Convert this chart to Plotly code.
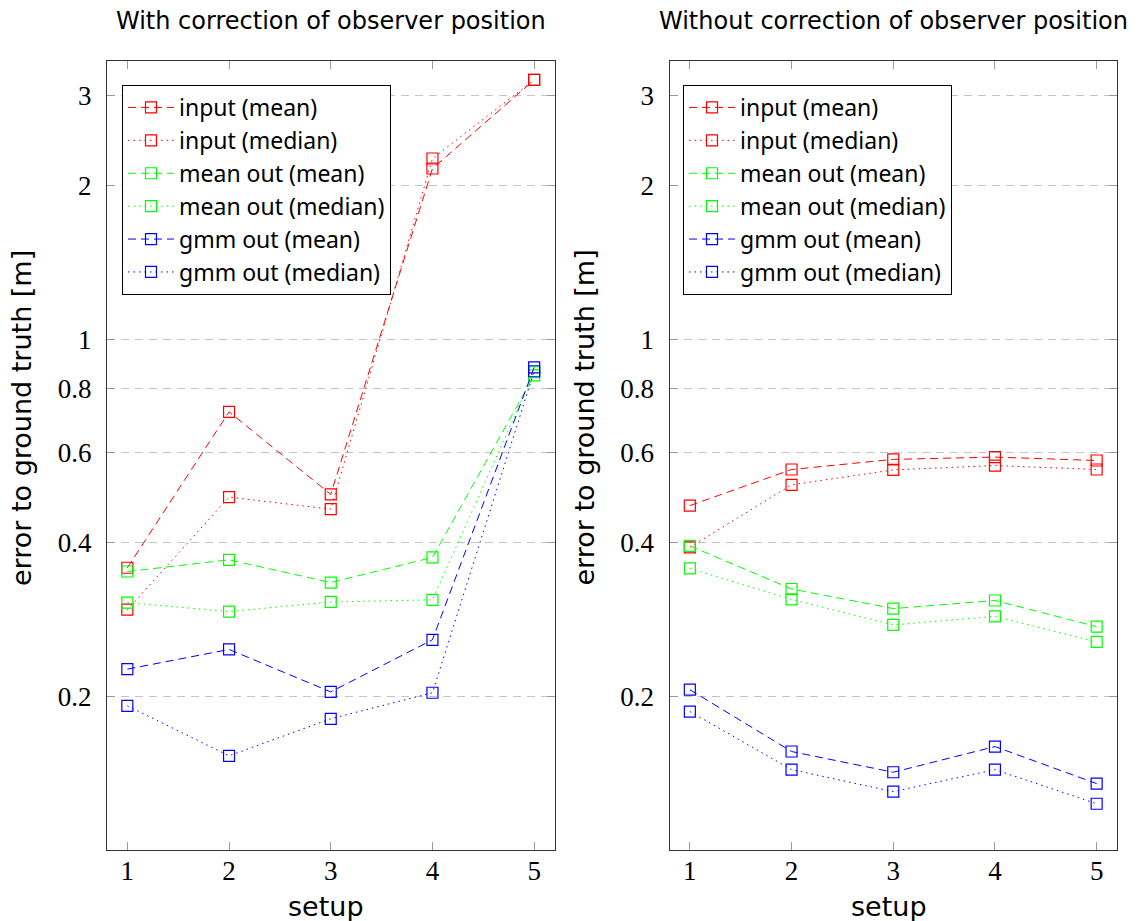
import plotly.graph_objects as go

# Setups on the x axis
setups = [1, 2, 3, 4, 5]

# Error to ground truth [m], with correction of observer position
with_input_mean = [0.357, 0.721, 0.497, 2.16, 3.22]
with_input_median = [0.2955, 0.491, 0.465, 2.26, 3.22]
with_meanout_mean = [0.351, 0.370, 0.334, 0.374, 0.850]
with_meanout_median = [0.305, 0.293, 0.306, 0.309, 0.862]
with_gmm_mean = [0.226, 0.247, 0.204, 0.258, 0.881]
with_gmm_median = [0.1916, 0.1529, 0.1807, 0.2032, 0.866]

# Error to ground truth [m], without correction of observer position
without_input_mean = [0.4725, 0.556, 0.582, 0.588, 0.579]
without_input_median = [0.3915, 0.519, 0.555, 0.566, 0.556]
without_meanout_mean = [0.394, 0.3244, 0.297, 0.308, 0.2738]
without_meanout_median = [0.356, 0.3096, 0.2759, 0.2868, 0.2555]
without_gmm_mean = [0.206, 0.1559, 0.1420, 0.1594, 0.1349]
without_gmm_median = [0.1867, 0.1437, 0.1301, 0.1437, 0.1232]

series_names = ["input (mean)", "input (median)", "mean out (mean)",
                "mean out (median)", "gmm out (mean)", "gmm out (median)"]
panel_titles = ["With correction of observer position",
                "Without correction of observer position"]
x_label = "setup"
y_label = "error to ground truth [m]"
y_tick_values = [0.2, 0.4, 0.6, 0.8, 1, 2, 3]
y_tick_labels = ["0.2", "0.4", "0.6", "0.8", "1", "2", "3"]

colors = ["#ff0000", "#ff0000", "#00ff00", "#00ff00", "#0000ff", "#0000ff"]
DASHED = "8px,5px"
DOTTED = "1.5px,4px"
dashes = [DASHED, DOTTED, DASHED, DOTTED, DASHED, DOTTED]

panels = [
    [with_input_mean, with_input_median, with_meanout_mean,
     with_meanout_median, with_gmm_mean, with_gmm_median],
    [without_input_mean, without_input_median, without_meanout_mean,
     without_meanout_median, without_gmm_mean, without_gmm_median],
]

SANS = "DejaVu Sans"
LEGEND_SANS = "Noto Sans"
SERIF = "Liberation Serif"

fig = go.Figure()
for p, data in enumerate(panels):
    xa = "x" if p == 0 else "x2"
    ya = "y" if p == 0 else "y2"
    leg = "legend" if p == 0 else "legend2"
    for name, vals, c, d in zip(series_names, data, colors, dashes):
        fig.add_trace(go.Scatter(
            x=setups, y=vals, name=name, mode="lines+markers",
            xaxis=xa, yaxis=ya, legend=leg,
            line=dict(color=c, width=1, dash=d),
            marker=dict(symbol="square-open", size=11, color=c,
                        line=dict(width=1.2, color=c)),
        ))

W, H = 1141, 921
ml, mr, mt, mb = 107, 24, 61, 71
pw = W - ml - mr
ph = H - mt - mb
dom1 = [0, 447.5 / pw]
dom2 = [562.5 / pw, 1]


def px_x(x):
    return (x - ml) / pw


def px_y(y):
    return (H - mb - y) / ph


xcommon = dict(
    type="linear", range=[0.8, 5.2], tickvals=setups,
    ticks="inside", ticklen=8, tickcolor="#9a9a9a", tickwidth=1,
    showline=True, linecolor="#333333", linewidth=1, mirror="ticks",
    showgrid=False, zeroline=False, automargin=False, ticklabelstandoff=-3,
    tickfont=dict(family=SERIF, size=27, color="black"),
)
ycommon = dict(
    type="log", range=[-1.0, 0.545], tickvals=y_tick_values,
    ticktext=y_tick_labels,
    ticks="inside", ticklen=8, tickcolor="#9a9a9a", tickwidth=1,
    showline=True, linecolor="#333333", linewidth=1, mirror="ticks",
    showgrid=True, gridcolor="#c4c4c4", griddash="8px,6px", gridwidth=1,
    zeroline=False, automargin=False, ticklabelstandoff=9,
    tickfont=dict(family=SERIF, size=27, color="black"),
)

legend_common = dict(
    font=dict(family=LEGEND_SANS, size=23, color="black"),
    bgcolor="white", bordercolor="black", borderwidth=1,
    xanchor="left", yanchor="top", tracegroupgap=0, itemwidth=46,
)

fig.update_layout(
    width=W, height=H,
    margin=dict(l=ml, r=mr, t=mt, b=mb, pad=0),
    paper_bgcolor="white", plot_bgcolor="white",
    xaxis=dict(domain=dom1, anchor="y", **xcommon),
    yaxis=dict(domain=[0, 1], anchor="x", **ycommon),
    xaxis2=dict(domain=dom2, anchor="y2", **xcommon),
    yaxis2=dict(domain=[0, 1], anchor="x2", **ycommon),
    legend=dict(x=px_x(122), y=px_y(85), **legend_common),
    legend2=dict(x=px_x(683), y=px_y(85), **legend_common),
    showlegend=True,
)

label_font = dict(family=SANS, size=27, color="black")
for p, (dom, title) in enumerate(zip([dom1, dom2], panel_titles)):
    center = (dom[0] + dom[1]) / 2
    shift = 0 if p == 0 else 562.5
    fig.add_annotation(
        text=title, xref="paper", yref="paper",
        x=center, y=px_y(21), xanchor="center", yanchor="middle",
        showarrow=False, font=dict(family=SANS, size=24, color="black"),
    )
    fig.add_annotation(
        text=x_label, xref="paper", yref="paper",
        x=px_x(326 + shift), y=px_y(906), xanchor="center", yanchor="middle",
        showarrow=False, font=label_font,
    )
    fig.add_annotation(
        text=y_label, xref="paper", yref="paper", textangle=-90,
        x=px_x(21 + shift), y=px_y(418), xanchor="center", yanchor="middle",
        showarrow=False, font=label_font,
    )

fig.write_html("out.html")
